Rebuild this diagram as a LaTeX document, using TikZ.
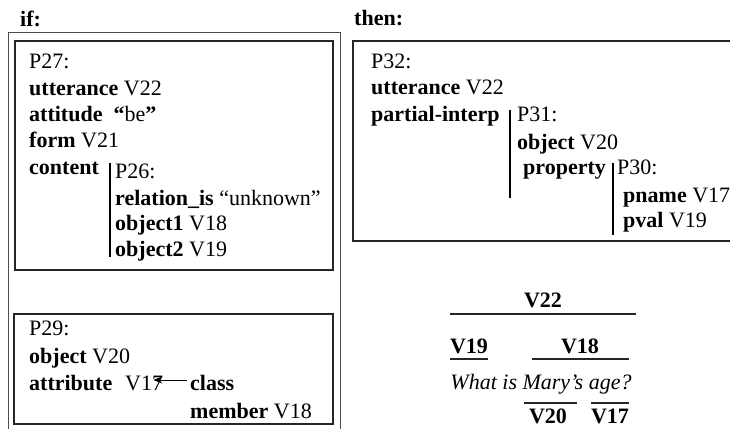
\documentclass[tikz,border=0pt]{standalone}
\usepackage{fontspec}
\setmainfont{Liberation Serif}
\usetikzlibrary{arrows.meta}
\begin{document}
\begin{tikzpicture}[x=1pt,y=-1pt,
  txt/.style={anchor=base west,inner sep=0pt,font=\fontsize{22}{26}\selectfont},
  ctxt/.style={anchor=base,inner sep=0pt,font=\fontsize{22}{26}\selectfont},
  frame/.style={draw=black!85,line width=1.2pt},
  outerframe/.style={draw=black!70,line width=1pt},
  bar/.style={line width=2pt},
  rulex/.style={line width=1.2pt,draw=black!85},
  pointer/.style={-{Stealth[length=9pt,width=7pt]},line width=1pt}]
\useasboundingbox (0,0) rectangle (730,428);
\clip (0,0) rectangle (730,428);

% headings
\node[txt] (if) at (20,27) {\textbf{if:}};
\node[txt] (then) at (354,26) {\textbf{then:}};

% frames
\draw[outerframe] (8,440) -- (8,33) -- (340,33) -- (340,440);
\draw[frame] (15,41) rectangle (333,270);
\draw[frame] (14,314) rectangle (333,424);
\draw[frame] (740,41) -- (353,41) -- (353,241) -- (740,241);

% P27
\node[txt] (p27) at (29,68) {P27:};
\node[txt] (utt1) at (29,95) {\textbf{utterance} V22};
\node[txt] (att) at (29,121) {\textbf{attitude}\ \ \textbf{“}be\textbf{”}};
\node[txt] (form) at (29,147) {\textbf{form} V21};
\node[txt] (cont) at (29,174) {\textbf{content}};
\draw[bar] (110,163) -- (110,257);
\node[txt] (p26) at (115,178) {P26:};
\node[txt] (rel) at (115,205) {\textbf{relation\_is} “unknown”};
\node[txt] (ob1) at (115,230) {\textbf{object1} V18};
\node[txt] (ob2) at (115,256) {\textbf{object2} V19};

% P29
\node[txt] (p29) at (29,335) {P29:};
\node[txt] (obj) at (29,363) {\textbf{object} V20};
\node[txt] (attr) at (29,390) {\textbf{attribute}};
\node[txt] (v17) at (125,390) {V17};
\node[txt] (cls) at (190,390) {\textbf{class}};
\node[txt] (mem) at (190,418) {\textbf{member} V18};
\draw[pointer] ([xshift=-3pt,yshift=10pt]cls.base west) -- ([xshift=-10pt,yshift=10pt]v17.base east);

% P32
\node[txt] (p32) at (371,68) {P32:};
\node[txt] (utt2) at (371,94) {\textbf{utterance} V22};
\node[txt] (pint) at (371,121) {\textbf{partial-interp}};
\draw[bar] (510,110) -- (510,198);
\node[txt] (p31) at (517,121) {P31:};
\node[txt] (obj2) at (517,149) {\textbf{object} V20};
\node[txt] (prop) at (523,174) {\textbf{property}};
\draw[bar] (613,163) -- (613,235);
\node[txt] (p30) at (617,174) {P30:};
\node[txt] (pn) at (623,202) {\textbf{pname} V17};
\node[txt] (pv) at (623,227) {\textbf{pval} V19};

% parse of the utterance
\node[ctxt] (v22) at (543,307) {\textbf{V22}};
\draw[rulex] (450,314) -- (636,314);
\node[ctxt] (v19) at (469,353) {\textbf{V19}};
\draw[rulex] (450,359) -- (488,359);
\node[ctxt] (v18) at (580,353) {\textbf{V18}};
\draw[rulex] (532,359) -- (629,359);
\node[ctxt] (q) at (541,389) {\textit{What is Mary’s age?}};
\draw[rulex] (524,403) -- (577,403);
\draw[rulex] (591,403) -- (629,403);
\node[ctxt] (v20) at (548,423) {\textbf{V20}};
\node[ctxt] (v17b) at (610,423) {\textbf{V17}};
\end{tikzpicture}
\end{document}
